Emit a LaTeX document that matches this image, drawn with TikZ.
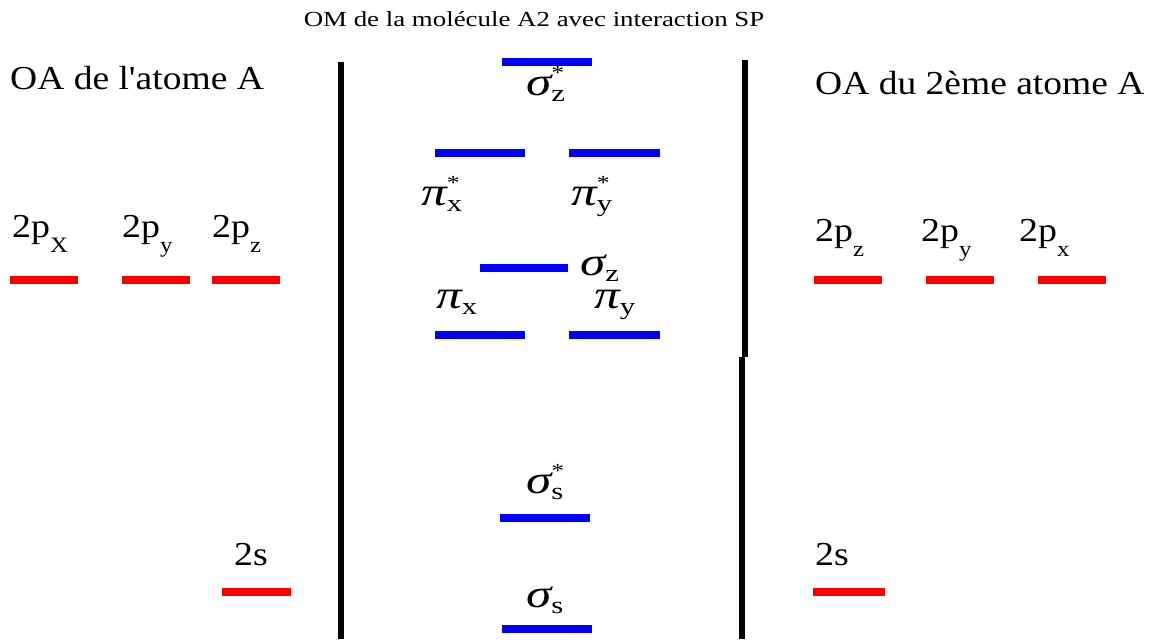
\documentclass[tikz,border=0pt]{standalone}
\usepackage{fontspec}
\setmainfont{Liberation Serif}
\newcommand\wide[2]{\scalebox{#1}[1]{#2}}
\newcommand\molab[3]{\wide{1.28}{{\itshape #1}\makebox[0pt][l]{\raisebox{16pt}{\fontsize{20}{20}\selectfont #3}}\raisebox{-6pt}{\fontsize{24}{24}\selectfont #2}}}
\newcommand\aolab[2]{\wide{1.13}{2#1\raisebox{-15pt}{\fontsize{22}{22}\selectfont #2}}}
\begin{document}
\begin{tikzpicture}[x=1pt,y=-1pt,
    mo/.style={fill=blue, minimum width=#1, minimum height=8pt, inner sep=0pt, anchor=center},
    ao/.style={fill=red, minimum width=#1, minimum height=8pt, inner sep=0pt, anchor=center},
    lab/.style={anchor=base west, inner sep=0pt, font=\fontsize{33.5}{35}\selectfont},
    grk/.style={anchor=base west, inner sep=0pt, font=\fontsize{40}{40}\selectfont}]
  \useasboundingbox (0,0) rectangle (1155,639);
  \node[anchor=base, inner sep=0pt, font=\fontsize{21.5}{22}\selectfont] (title) at (534,27) {\wide{1.25}{OM de la molécule A2 avec interaction SP}};
  \node[lab] (oaA) at (10,90) {\wide{1.12}{OA de l\textquotesingle atome A}};
  \node[lab] (oaB) at (815,95) {\wide{1.12}{OA du 2ème atome A}};

  % dividers
  \draw[line width=6pt] (341,62) -- (341,639);
  \draw[line width=6pt] (745,60) -- (745,357);
  \draw[line width=6pt] (742,357) -- (742,639);

  % OA de gauche
  \node[ao=68pt] (Lpx) at (44,280) {};
  \node[ao=68pt] (Lpy) at (156,280) {};
  \node[ao=68pt] (Lpz) at (246,280) {};
  \node[ao=69pt] (Ls) at (256.5,592) {};
  \node[lab] (lLpx) at (12,237) {\aolab{p}{X}};
  \node[lab] (lLpy) at (122,237) {\aolab{p}{y}};
  \node[lab] (lLpz) at (212,237) {\aolab{p}{z}};
  \node[lab] (lLs) at (234,565) {\wide{1.13}{2s}};

  % OA de droite
  \node[ao=68pt] (Rpz) at (848,280) {};
  \node[ao=68pt] (Rpy) at (960,280) {};
  \node[ao=68pt] (Rpx) at (1072,280) {};
  \node[ao=72pt] (Rs) at (849,592) {};
  \node[lab] (lRpz) at (815,241) {\aolab{p}{z}};
  \node[lab] (lRpy) at (921,241) {\aolab{p}{y}};
  \node[lab] (lRpx) at (1019,241) {\aolab{p}{x}};
  \node[lab] (lRs) at (815,565) {\wide{1.13}{2s}};

  % OM
  \node[mo=90pt] (szs) at (547,62) {};
  \node[mo=90pt] (pixs) at (480,153) {};
  \node[mo=91pt] (piys) at (614.5,153) {};
  \node[mo=88pt] (sz) at (524,268) {};
  \node[mo=90pt] (pix) at (480,335) {};
  \node[mo=91pt] (piy) at (614.5,335) {};
  \node[mo=90pt] (sss) at (545,518) {};
  \node[mo=90pt] (ss) at (547,629) {};
  \node[grk] (lszs) at (526,96) {\molab{σ}{z}{*}};
  \node[grk] (lpixs) at (421,205) {\molab{π}{x}{*}};
  \node[grk] (lpiys) at (571,205) {\molab{π}{y}{*}};
  \node[grk] (lsz) at (580,275) {\molab{σ}{z}{}};
  \node[grk] (lpix) at (436,308) {\molab{π}{x}{}};
  \node[grk] (lpiy) at (594,308) {\molab{π}{y}{}};
  \node[grk] (lsss) at (526,493) {\molab{σ}{s}{*}};
  \node[grk] (lss) at (526,607) {\molab{σ}{s}{}};
\end{tikzpicture}
\end{document}
